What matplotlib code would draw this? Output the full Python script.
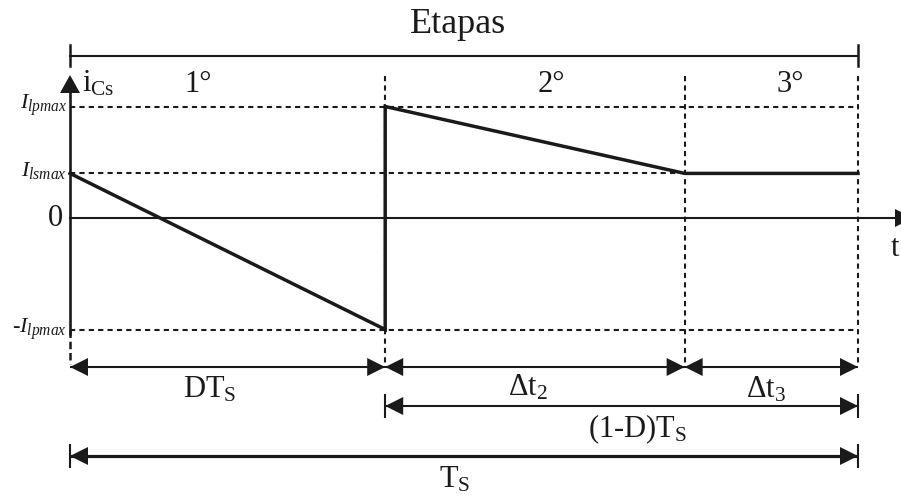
import matplotlib
matplotlib.use("Agg")
import matplotlib.pyplot as plt
from matplotlib.patches import Polygon

plt.rcParams["font.family"] = ["Liberation Serif", "DejaVu Serif"]
plt.rcParams["mathtext.fontset"] = "custom"
plt.rcParams["mathtext.rm"] = "Liberation Serif"
plt.rcParams["mathtext.it"] = "Liberation Serif:italic"

# Waveform of i_Cs over one switching period (time in units of Ts, current in units of Ilpmax)
I_lpmax = 1.0
I_lsmax = 0.4
D = 0.4            # end of stage 1
t_stage3 = 0.78    # end of stage 2 / start of stage 3
Ts = 1.0

wave_t = [0.0, D, D, t_stage3, Ts]
wave_i = [I_lsmax, -I_lpmax, I_lpmax, I_lsmax, I_lsmax]

level_labels = [r"$I_{lpmax}$", r"$I_{lsmax}$", "0", r"-$I_{lpmax}$"]
level_values = [I_lpmax, I_lsmax, 0.0, -I_lpmax]
stage_labels = ["1°", "2°", "3°"]

# scale of the drawing: pixels per unit of time / current
W, H = 901, 500
X0, PXX = 70, 788
Y0, PXY = 218, 111.5

def ux(px):
    return px / PXX

def uy(px):
    return px / PXY

def row(px):
    return (Y0 - px) / PXY

fig = plt.figure(figsize=(W / 100, H / 100), dpi=100)
ax = fig.add_axes([0, 0, 1, 1])
ax.set_xlim(-X0 / PXX, (W - X0) / PXX)
ax.set_ylim((Y0 - H) / PXY, Y0 / PXY)
ax.axis("off")

K = "#1a1a1a"
dot = (0, (2.5, 2.0))


def head(x_tip, y, direction, length=18, half=9):
    """Filled triangular arrowhead; direction +1 points right, -1 left, 'up' points up."""
    if direction == "up":
        pts = [(x_tip, y), (x_tip - ux(half + 1), y - uy(length)), (x_tip + ux(half + 1), y - uy(length))]
    else:
        pts = [(x_tip, y), (x_tip - direction * ux(length), y + uy(half)),
               (x_tip - direction * ux(length), y - uy(half))]
    ax.add_patch(Polygon(pts, closed=True, facecolor=K, edgecolor="none", zorder=5, clip_on=False))


def dim(x1, x2, y, lw=1.5, ticks=False):
    ax.plot([x1, x2], [y, y], color=K, lw=lw, solid_capstyle="butt")
    head(x1, y, -1)
    head(x2, y, +1)
    if ticks:
        for xx in (x1, x2):
            ax.plot([xx, xx], [y + uy(11), y - uy(11)], color=K, lw=1.5)


# reference levels (dotted)
ax.plot([0, Ts], [I_lpmax, I_lpmax], color=K, lw=1.5, ls=dot)
ax.plot([0, t_stage3], [I_lsmax, I_lsmax], color=K, lw=1.5, ls=dot)
ax.plot([0, Ts], [-I_lpmax, -I_lpmax], color=K, lw=1.5, ls=dot)

# stage boundaries (dotted verticals)
top_v = row(76)
bot_v = row(364)
for xb in (D, t_stage3, Ts):
    ax.plot([xb, xb], [top_v, bot_v], color=K, lw=1.5, ls=dot)
ax.plot([0, 0], [-I_lpmax, bot_v], color=K, lw=1.8, ls=(0, (3, 1.5)))

# axes
ax.plot([0, 0], [row(92), -I_lpmax - uy(5)], color=K, lw=1.9, solid_capstyle="butt")
head(0, row(75), "up")
ax.plot([0, ux(W - X0 - 6)], [0, 0], color=K, lw=1.5)
head(ux(W - X0 + 12), 0, +1)
ax.text(ux(891 - X0), row(256), "t", fontsize=22, ha="left", va="baseline", color=K)
ax.text(ux(12), row(92), r"$\mathrm{i}_{\mathrm{Cs}}$", fontsize=22, ha="left",
        va="baseline", color=K)

# waveform
ax.plot(wave_t, wave_i, color=K, lw=2.5, solid_joinstyle="miter")

# level labels
for lab, val in zip(level_labels, level_values):
    if lab == "0":
        ax.text(ux(-7), val - uy(8), lab, fontsize=22, ha="right", va="baseline", color=K)
    else:
        ax.text(ux(-3), val - uy(3), lab, fontsize=16, ha="right", va="baseline", color=K)

# stages header
ax.plot([0, Ts], [row(56), row(56)], color=K, lw=1.5)
for xx in (0, Ts):
    ax.plot([xx, xx], [row(45), row(66)], color=K, lw=1.8)
ax.text(ux(458 - X0), row(33), "Etapas", fontsize=26, ha="center", va="baseline", color=K)
for lab, px in zip(stage_labels, (198, 551, 790)):
    ax.text(ux(px - X0), row(92), lab, fontsize=22, ha="center", va="baseline", color=K)

# dimension lines
r1, r2, r3 = row(367), row(406), row(456)
dim(0, D, r1)
dim(D, t_stage3, r1)
dim(t_stage3, Ts, r1)
dim(D, Ts, r2, ticks=True)
dim(0, Ts, r3, lw=2.3, ticks=True)

ax.text(ux(210 - X0), row(397), r"$\mathrm{DT}_{\mathrm{S}}$", fontsize=22, ha="center",
        va="baseline", color=K)
ax.text(ux(528 - X0), row(395), r"$\Delta\mathrm{t}_{2}$", fontsize=22, ha="center",
        va="baseline", color=K)
ax.text(ux(766 - X0), row(397), r"$\Delta\mathrm{t}_{3}$", fontsize=22, ha="center",
        va="baseline", color=K)
ax.text(ux(638 - X0), row(437), r"$\mathrm{(1\text{-}D)T}_{\mathrm{S}}$", fontsize=22,
        ha="center", va="baseline", color=K)
ax.text(ux(455 - X0), row(488), r"$\mathrm{T}_{\mathrm{S}}$", fontsize=22, ha="center",
        va="baseline", color=K)

fig.savefig("out.png", dpi=100)
